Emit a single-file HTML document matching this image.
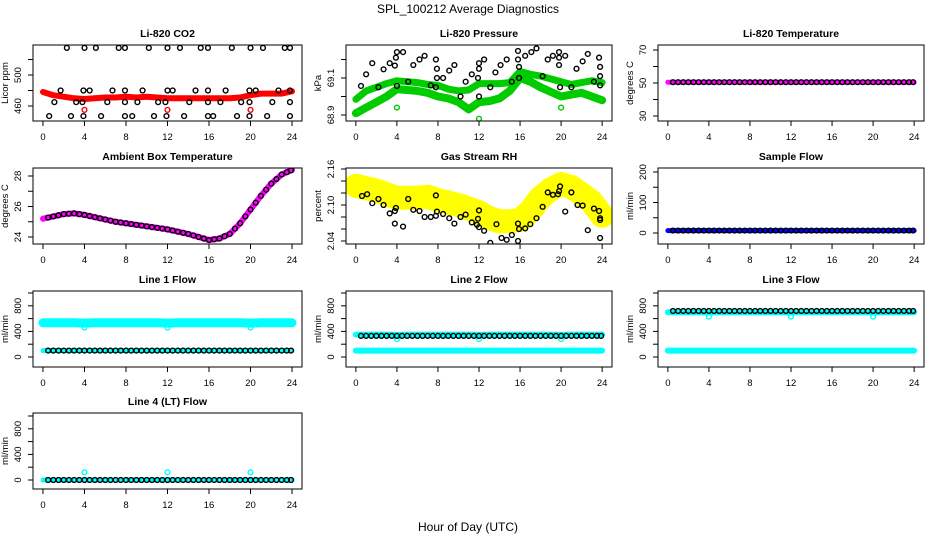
<!DOCTYPE html>
<html><head><meta charset="utf-8">
<style>
html,body{margin:0;padding:0;background:#fff;}
svg{display:block;font-family:"Liberation Sans",sans-serif;}
</style></head>
<body>
<svg id="chart" width="936" height="540" viewBox="0 0 936 540" xmlns="http://www.w3.org/2000/svg">
<text x="468" y="13" text-anchor="middle" font-size="12">SPL_100212  Average Diagnostics</text>
<text x="468" y="531" text-anchor="middle" font-size="12">Hour of Day (UTC)</text>
</svg>
<script>
// ---- data ----
const hours = [0,1,2,3,4,5,6,7,8,9,10,11,12,13,14,15,16,17,18,19,20,21,22,23,24];
const halfHours = [0.5,1,1.5,2,2.5,3,3.5,4,4.5,5,5.5,6,6.5,7,7.5,8,8.5,9,9.5,10,10.5,11,11.5,12,12.5,13,13.5,14,14.5,15,15.5,16,16.5,17,17.5,18,18.5,19,19.5,20,20.5,21,21.5,22,22.5,23,23.5,23.9];

const co2Red = [478,474,472,470,469,470,471,471,472,471,472,471,470,470,470,470,470,470,470,471,474,476,476,476,479];
const co2BlackX = [2.3,4,5.1,7.3,7.9,10.2,12,13.2,15.2,15.9,18.2,20,21.2,23.3,23.8, 1.7,3.9,4.5,6.7,7.9,9.6,12,12.5,14.7,15.9,17.6,19.9,20.5,22.7,23.8, 1.1,3.2,3.8,6.2,7.9,9.1,11.1,11.8,14.1,15.9,17.1,19.1,19.9,22.1,23.8, 0.6,2.7,3.9,5.6,7.9,8.6,10.7,11.9,13.6,15.9,16.4,18.7,19.9,21.6,23.8];
const co2BlackY = [535,535,535,535,535,535,535,535,535,535,535,535,535,535,535, 480,480,480,480,480,480,480,480,480,480,480,480,480,480,480, 465,465,465,465,465,465,465,465,465,465,465,465,465,465,465, 447,447,447,447,447,447,447,447,447,447,447,447,447,447,447];
const co2OutX = [4,12,20];
const co2OutY = [455,455,455];

const presUpper = [68.985,69.03,69.05,69.07,69.085,69.08,69.075,69.065,69.06,69.04,69.03,69.035,69.07,69.07,69.07,69.075,69.135,69.12,69.11,69.095,69.08,69.065,69.075,69.085,69.075];
const presLower = [68.91,68.94,68.97,69.0,69.04,69.035,69.03,69.02,69.0,68.99,68.97,68.93,68.97,68.975,68.99,69.03,69.1,69.08,69.05,69.025,69.0,69.01,69.02,69.0,68.98];
const presBlackX = [0.5,1.0,1.6,2.2,2.7,3.3,3.8,3.9,4.0,4.0,4.6,5.1,5.6,6.2,6.7,7.3,7.8,7.9,7.9,7.8,8.5,9.1,9.6,10.2,10.7,11.3,11.9,12.0,12.0,12.0,12.5,13.1,13.6,14.1,14.7,15.2,15.8,15.8,15.9,15.9,16.5,17.1,17.6,18.2,18.7,19.2,19.8,19.8,19.8,19.9,20.4,21.0,21.5,22.1,22.6,23.2,23.7,23.8,23.8,23.8];
const presBlackY = [69.057,69.12,69.18,69.05,69.147,69.18,69.167,69.21,69.24,69.057,69.24,69.08,69.17,69.2,69.22,69.06,69.2,69.15,69.10,69.05,69.1,69.14,69.17,69.0,69.08,69.12,69.1,69.15,69.18,69.0,69.2,69.05,69.13,69.17,69.2,69.08,69.246,69.2,69.16,69.1,69.22,69.24,69.26,69.11,69.2,69.22,69.24,69.21,69.17,69.05,69.22,69.05,69.15,69.19,69.23,69.08,69.21,69.16,69.11,69.06];
const presOutX = [4,12,20];
const presOutY = [68.94,68.88,68.94];

const tempMag = [50.5,50.5,50.5,50.5,50.5,50.5,50.5,50.5,50.5,50.5,50.5,50.5,50.5,50.5,50.5,50.5,50.5,50.5,50.5,50.5,50.5,50.5,50.5,50.5,50.5];
const sampleBlue = [8,8,8,8,8,8,8,8,8,8,8,8,8,8,8,8,8,8,8,8,8,8,8,8,8];

const ambMag = [25.2,25.35,25.5,25.55,25.45,25.3,25.15,25.0,24.9,24.8,24.7,24.6,24.5,24.35,24.2,24.0,23.8,23.9,24.2,24.9,25.8,26.7,27.5,28.1,28.4];

const rhYellow = [2.132,2.128,2.124,2.118,2.112,2.112,2.112,2.114,2.108,2.104,2.1,2.094,2.088,2.078,2.073,2.073,2.075,2.09,2.112,2.126,2.135,2.13,2.118,2.105,2.082];
const rhBlackX = [0.6,1.1,1.6,2.2,2.7,3.3,3.8,3.9,3.8,4.6,5.1,5.6,6.2,6.7,7.3,7.8,7.9,7.8,8.5,9.1,9.6,10.2,10.7,11.3,11.8,11.9,12.0,12.0,12.5,13.1,13.7,14.2,14.7,15.2,15.8,15.8,15.9,16.5,17.0,17.6,18.2,18.7,19.2,19.7,19.8,19.9,20.4,21.0,21.6,22.1,22.6,23.2,23.7,23.8,23.8,23.8];
const rhBlackY = [2.115,2.118,2.103,2.11,2.1,2.086,2.09,2.095,2.069,2.064,2.11,2.092,2.09,2.08,2.08,2.082,2.089,2.116,2.085,2.078,2.069,2.08,2.084,2.071,2.067,2.077,2.091,2.063,2.057,2.037,2.068,2.045,2.042,2.05,2.069,2.04,2.06,2.061,2.068,2.078,2.097,2.121,2.117,2.118,2.123,2.131,2.089,2.121,2.1,2.099,2.058,2.094,2.09,2.075,2.078,2.045];

const line1Cyan = [535,535,535,535,530,535,535,535,535,535,535,535,530,535,535,535,535,535,535,535,530,535,535,535,535];
const line1Low = [100,100,100,100,100,100,100,100,100,100,100,100,100,100,100,100,100,100,100,100,100,100,100,100,100];
const line2Cyan = [350,350,350,350,345,350,350,350,350,350,350,350,345,350,350,350,350,350,350,350,345,350,350,350,350];
const line2Low = [100,100,100,100,100,100,100,100,100,100,100,100,100,100,100,100,100,100,100,100,100,100,100,100,100];
const line2Black = [330,330,330,330,330,330,330,330,330,330,330,330,330,330,330,330,330,330,330,330,330,330,330,330,330];
const line3Cyan = [700,700,700,700,695,700,700,700,700,700,700,700,695,700,700,700,700,700,700,700,695,700,700,700,700];
const line3Low = [100,100,100,100,100,100,100,100,100,100,100,100,100,100,100,100,100,100,100,100,100,100,100,100,100];
const line3Black = [720,720,720,720,720,720,720,720,720,720,720,720,720,720,720,720,720,720,720,720,720,720,720,720,720];
const line4Base = [0,0,0,0,0,0,0,0,0,0,0,0,0,0,0,0,0,0,0,0,0,0,0,0,0];
const dipX = [4,12,20];
const line1DipY = [460,460,460];
const line2DipY = [280,280,280];
const line3DipY = [630,630,630];
const line4SpikeY = [120,120,120];

const xTicks = [0,4,8,12,16,20,24];

// ---- drawing ----
const NS = "http://www.w3.org/2000/svg";
const svg = document.getElementById('chart');
function mk(tag, attrs, parent){
  const e = document.createElementNS(NS, tag);
  for (const k in attrs) e.setAttribute(k, attrs[k]);
  (parent||svg).appendChild(e);
  return e;
}
const colX = [[33,302],[346,612],[658,924]];
const rowY = [[45,121],[168,244],[291,367],[413,489]];

function panel(name, title, col, row, yAt, yTicks, yLabs, ylab){
  const [x0,x1] = colX[col], [y0,y1] = rowY[row];
  const g = mk('g', {});
  
  
  const xs = h => x0 + (h + 0.96) / 25.92 * (x1 - x0);
  const ys = v => yAt(v, y0, y1);
  const clip = mk('clipPath', {id: 'c-' + name}, g);
  mk('rect', {x:x0, y:y0, width:x1-x0, height:y1-y0}, clip);
  const plot = mk('g', {'clip-path': 'url(#c-' + name + ')'}, g);
  
  
  const box = mk('rect', {x:x0, y:y0, width:x1-x0, height:y1-y0, fill:'none', stroke:'#000', 'stroke-width':1}, g);
  
  
  const t = mk('text', {x:(x0+x1)/2, y:y0-8, 'text-anchor':'middle', 'font-size':10.5, 'font-weight':'bold'}, g);
  t.textContent = title;
  
  
  // x axis
  const xa = mk('g', {}, g);
  
  
  mk('line', {x1:xs(0), x2:xs(24), y1:y1, y2:y1, stroke:'#000'}, xa);
  xTicks.forEach(v => {
    mk('line', {x1:xs(v), x2:xs(v), y1:y1, y2:y1+5, stroke:'#000'}, xa);
    const tl = mk('text', {x:xs(v), y:y1+19, 'text-anchor':'middle', 'font-size':9.5}, xa);
    tl.textContent = v;
    
    
  });
  // y axis
  const ya = mk('g', {}, g);
  
  
  mk('line', {x1:x0, x2:x0, y1:ys(yTicks[0]), y2:ys(yTicks[yTicks.length-1]), stroke:'#000'}, ya);
  yTicks.forEach(v => {
    mk('line', {x1:x0-5, x2:x0, y1:ys(v), y2:ys(v), stroke:'#000'}, ya);
  });
  yLabs.forEach(v => {
    const yy = ys(v);
    const tl = mk('text', {x:x0-12, y:yy, 'text-anchor':'middle', 'font-size':9.5, transform:'rotate(-90 '+(x0-12)+' '+yy+')'}, ya);
    tl.textContent = v;
    
    
  });
  const yl = mk('text', {x:x0-25, y:(y0+y1)/2, 'text-anchor':'middle', 'font-size':9.5, transform:'rotate(-90 '+(x0-25)+' '+((y0+y1)/2)+')'}, g);
  yl.textContent = ylab;
  
  
  return {xs, ys, plot};
}
function lin(v0, p0, v1, p1){ return (v, y0, y1) => p0 + (v - v0) / (v1 - v0) * (p1 - p0); }

function band(p, xsArr, ysArr, color, width, nm){
  const pts = xsArr.map((h,i) => p.xs(h).toFixed(1) + ',' + p.ys(ysArr[i]).toFixed(1)).join(' ');
  const pl = mk('polyline', {points:pts, fill:'none', stroke:color, 'stroke-width':width, 'stroke-linecap':'round', 'stroke-linejoin':'round'}, p.plot);
  
  
}
function pts(p, xsArr, ysArr, color, nm){
  xsArr.forEach((h,i) => {
    const c = mk('circle', {cx:p.xs(h), cy:p.ys(ysArr[i]), r:2.4, fill:'none', stroke:color, 'stroke-width':1.4}, p.plot);
    
    
  });
}
function constAt(arr, xsArr){ return xsArr.map(h => arr[Math.min(24, Math.round(h))]); }
function midVals(arr, xsArr){ return xsArr.map(h => { const a = Math.floor(h), b = Math.min(24, a+1), f = h - a; return arr[a]*(1-f) + arr[b]*f; }); }

// CO2
let p = panel('co2', 'Li-820 CO2', 0, 0, lin(460,106,500,75), [460,480,500,520], [460,500], 'Licor ppm');
band(p, hours, co2Red, '#ff0000', 6, 'co2-red-series');
pts(p, co2OutX, co2OutY, '#ff0000', 'co2-red-outlier');
pts(p, co2BlackX, co2BlackY, '#000', 'co2-black-point');

// Pressure
p = panel('pressure', 'Li-820 Pressure', 1, 0, lin(68.9,115,69.1,78), [68.9,69.0,69.1,69.2], [68.9,69.1], 'kPa');
band(p, hours, presUpper, '#00cc00', 7, 'pressure-green-upper');
band(p, hours, presLower, '#00cc00', 8, 'pressure-green-lower');
pts(p, presOutX, presOutY, '#00cc00', 'pressure-green-outlier');
pts(p, presBlackX, presBlackY, '#000', 'pressure-black-point');

// Temperature
p = panel('li-temp', 'Li-820 Temperature', 2, 0, lin(50,83,70,50), [30,40,50,60,70], [30,50,70], 'degrees C');
band(p, hours, tempMag, '#ff00ff', 5, 'li-temp-magenta-series');
pts(p, halfHours, constAt(tempMag, halfHours), '#000', 'li-temp-black-point');

// Ambient
p = panel('ambient', 'Ambient Box Temperature', 0, 1, lin(24,237,28,176), [24,25,26,27,28], [24,26,28], 'degrees C');
band(p, hours, ambMag, '#ff00ff', 6, 'ambient-magenta-series');
pts(p, halfHours, midVals(ambMag, halfHours), '#000', 'ambient-black-point');

// RH
p = panel('rh', 'Gas Stream RH', 1, 1, lin(2.04,241,2.16,169), [2.04,2.06,2.08,2.10,2.12,2.14,2.16], [2.04,'2.10',2.16], 'percent');
band(p, hours, rhYellow, '#ffff00', 24, 'rh-yellow-series');
pts(p, rhBlackX, rhBlackY, '#000', 'rh-black-point');

// Sample Flow
p = panel('sample-flow', 'Sample Flow', 2, 1, lin(0,233,200,172), [0,50,100,150,200], [0,100,200], 'ml/min');
band(p, hours, sampleBlue, '#0000ff', 5, 'sample-flow-blue-series');
pts(p, halfHours, constAt(sampleBlue, halfHours), '#000', 'sample-flow-black-point');

const flowTicks = [0,200,400,600,800,1000], flowLabs = [0,400,800];
// Line 1
p = panel('line1', 'Line 1 Flow', 0, 2, lin(0,357,1000,293), flowTicks, flowLabs, 'ml/min');
band(p, hours, line1Cyan, '#00ffff', 9, 'line1-cyan-high');
pts(p, dipX, line1DipY, '#00ffff', 'line1-cyan-dip');
band(p, hours, line1Low, '#00ffff', 5, 'line1-cyan-low');
pts(p, halfHours, constAt(line1Low, halfHours), '#000', 'line1-black-point');

// Line 2
p = panel('line2', 'Line 2 Flow', 1, 2, lin(0,357,1000,293), flowTicks, flowLabs, 'ml/min');
band(p, hours, line2Cyan, '#00ffff', 6, 'line2-cyan-high');
pts(p, dipX, line2DipY, '#00ffff', 'line2-cyan-dip');
band(p, hours, line2Low, '#00ffff', 6, 'line2-cyan-low');
pts(p, halfHours, constAt(line2Black, halfHours), '#000', 'line2-black-point');

// Line 3
p = panel('line3', 'Line 3 Flow', 2, 2, lin(0,357,1000,293), flowTicks, flowLabs, 'ml/min');
band(p, hours, line3Cyan, '#00ffff', 6, 'line3-cyan-high');
pts(p, dipX, line3DipY, '#00ffff', 'line3-cyan-dip');
band(p, hours, line3Low, '#00ffff', 6, 'line3-cyan-low');
pts(p, halfHours, constAt(line3Black, halfHours), '#000', 'line3-black-point');

// Line 4
p = panel('line4', 'Line 4 (LT) Flow', 0, 3, lin(0,480,1000,416), flowTicks, flowLabs, 'ml/min');
band(p, hours, line4Base, '#00ffff', 5, 'line4-cyan-series');
pts(p, dipX, line4SpikeY, '#00ffff', 'line4-cyan-spike');
pts(p, halfHours, constAt(line4Base, halfHours), '#000', 'line4-black-point');
</script>
</body></html>
